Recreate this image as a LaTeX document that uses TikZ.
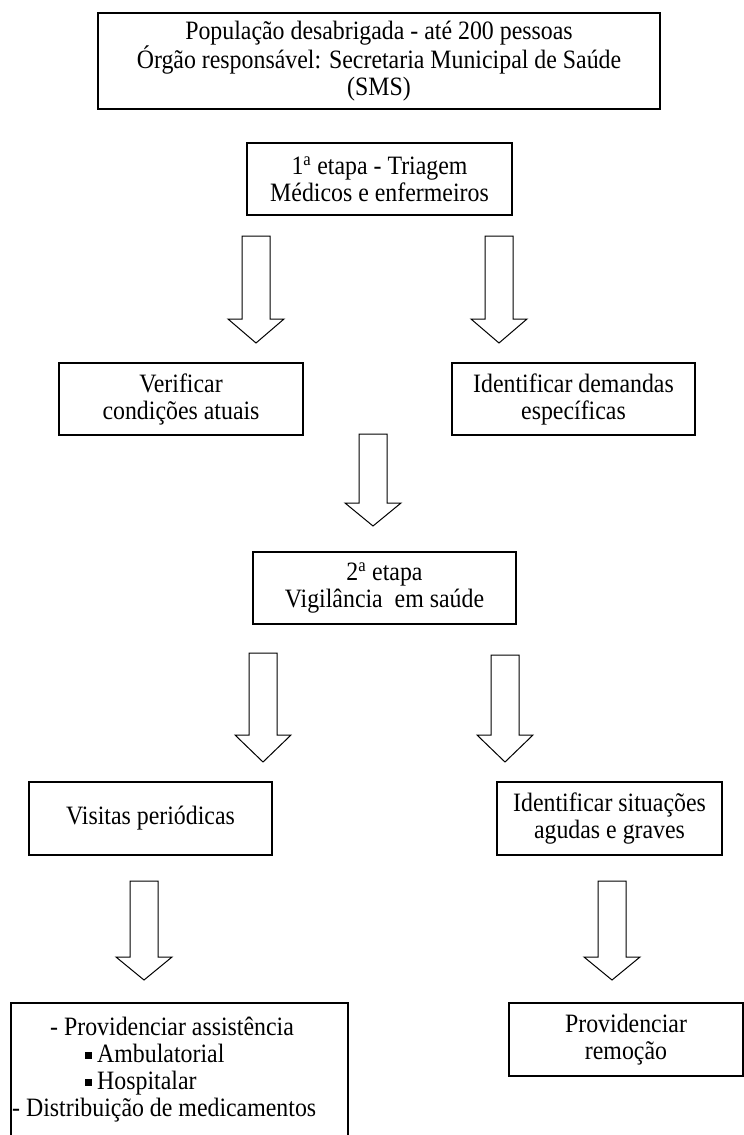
\documentclass[tikz,border=0pt]{standalone}
\usepackage{fontspec}
\setmainfont[FakeStretch=0.9]{Liberation Serif}
\newcommand{\blockarr}[5]{%
  \coordinate (#1) at (#2,#3);
  \draw[barrow] (#2-14,#3) -- (#2+14,#3) -- (#2+14,#4) -- (#2+28,#4) -- (#2,#5) -- (#2-28,#4) -- (#2-14,#4) -- cycle;}
\newcommand{\sqbullet}{\rule[3pt]{7pt}{7pt}\hspace{5pt}}
\begin{document}
\begin{tikzpicture}[x=1pt,y=-1pt,
  txt/.style={font=\fontsize{26.5}{27}\selectfont},
  box/.style={draw, line width=1.1pt, align=center, inner sep=0pt, txt},
  barrow/.style={draw, line width=1pt, line join=miter}]
\useasboundingbox (0,0) rectangle (744,1135);
\fill[white] (0,0) rectangle (744,1135);

\node[box, minimum width=562pt, minimum height=96pt] (pop) at (379,61)
  {População desabrigada - até 200 pessoas\\Órgão responsável: Secretaria Municipal de Saúde\\(SMS)};
\node[box, minimum width=265pt, minimum height=72pt] (et1) at (379.5,179)
  {1\textsuperscript{a} etapa - Triagem\\Médicos e enfermeiros};

\blockarr{a1}{256}{236}{319}{343}
\blockarr{a2}{499}{236}{319}{343}

\node[box, minimum width=244pt, minimum height=72pt] (ver) at (181,399)
  {Verificar\\condições atuais};
\node[box, minimum width=243pt, minimum height=72pt] (dem) at (573.5,399)
  {Identificar demandas\\específicas};

\blockarr{a3}{373}{434}{503}{526}

\node[box, minimum width=263pt, minimum height=72pt] (et2) at (384.5,588)
  {2\textsuperscript{a} etapa\\Vigilância\ \ em saúde};

\blockarr{b1}{263}{653}{735}{762}
\blockarr{b2}{505}{655}{735}{762}

\node[box, minimum width=243pt, minimum height=73pt] (vis) at (150.5,818.5)
  {Visitas periódicas};
\node[box, minimum width=225pt, minimum height=73pt] (sit) at (609.5,818.5)
  {Identificar situações\\agudas e graves};

\blockarr{c1}{144}{881}{957}{980}
\blockarr{c2}{612}{881}{957}{980}

\draw[line width=1.1pt] (11,1150) -- (11,1003) -- (348,1003) -- (348,1150);
\coordinate (assist) at (179.5,1003);
\node[txt, anchor=base west, inner sep=0pt] (l1) at (50,1035) {- Providenciar assistência};
\node[txt, anchor=base west, inner sep=0pt] (l2) at (85,1062) {\sqbullet Ambulatorial};
\node[txt, anchor=base west, inner sep=0pt] (l3) at (85,1089) {\sqbullet Hospitalar};
\node[txt, anchor=base west, inner sep=0pt] (l4) at (12,1116) {- Distribuição de medicamentos};

\node[box, minimum width=234pt, minimum height=73pt] (rem) at (626,1039.5)
  {Providenciar\\remoção};
\end{tikzpicture}
\end{document}
